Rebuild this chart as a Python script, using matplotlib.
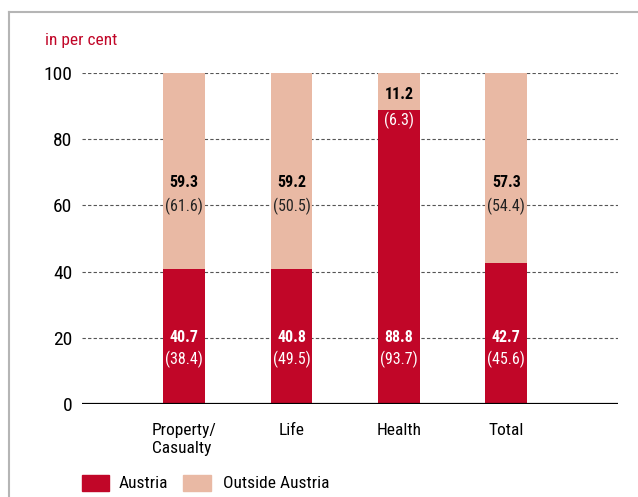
import matplotlib
matplotlib.use("Agg")
import matplotlib.pyplot as plt
from matplotlib.lines import Line2D
from matplotlib.patches import Rectangle
from matplotlib import font_manager

categories = ["Property/\nCasualty", "Life", "Health", "Total"]
austria = [40.7, 40.8, 88.8, 42.7]
outside = [59.3, 59.2, 11.2, 57.3]
austria_prev = ["(38.4)", "(49.5)", "(93.7)", "(45.6)"]
outside_prev = ["(61.6)", "(50.5)", "(6.3)", "(54.4)"]
yticks = [0, 20, 40, 60, 80, 100]

names = {f.name for f in font_manager.fontManager.ttflist}
fam = "Liberation Sans"
for cand in ["Liberation Sans Narrow", "Roboto Condensed", "Open Sans Condensed", "DejaVu Sans Condensed"]:
    if cand in names:
        fam = cand
        break
plt.rcParams['font.family'] = [fam, 'DejaVu Sans']

RED = "#C10628"
PINK = "#E9B9A4"
W, H = 638, 497
fig = plt.figure(figsize=(W / 100, H / 100), dpi=100)
ax = fig.add_axes([82 / W, 1 - 404 / H, (618 - 82) / W, (404 - 73) / H])

x = list(range(len(categories)))
bw = 0.39
ax.bar(x, austria, width=bw, color=RED, zorder=3)
ax.bar(x, outside, width=bw, bottom=austria, color=PINK, zorder=3)

ax.set_xlim(-0.95, 4.04)
ax.set_ylim(0, 100)
ax.set_yticks(yticks)
ax.set_yticklabels([str(v) for v in yticks], fontsize=14)
ax.tick_params(axis='y', length=0, pad=7)
ax.set_xticks(x)
ax.set_xticklabels(categories, fontsize=12.5, multialignment='left', va='top')
ax.tick_params(axis='x', length=0, pad=14)
for s in ax.spines.values():
    s.set_visible(False)
for v in yticks[1:]:
    ax.axhline(v, color="#555555", lw=0.8, ls=(0, (3, 2)), zorder=1)
ax.axhline(0, color="black", lw=1.6, zorder=4)

fs = 11.5
for i in x:
    a, o = austria[i], outside[i]
    ax.text(i, 20, f"{a}", ha='center', va='center', color='white',
            fontsize=fs, fontweight='bold', zorder=5)
    ax.text(i, 13.6, austria_prev[i], ha='center', va='center', color='white',
            fontsize=fs, zorder=5)
    if o > 30:
        ax.text(i, 67, f"{o}", ha='center', va='center', color='black',
                fontsize=fs, fontweight='bold', zorder=5)
        ax.text(i, 59.8, outside_prev[i], ha='center', va='center', color='#222222',
                fontsize=fs, zorder=5)
    else:
        ax.text(i, 93.6, f"{o}", ha='center', va='center', color='black',
                fontsize=fs, fontweight='bold', zorder=5)
        ax.text(i, 85.8, outside_prev[i], ha='center', va='center', color='white',
                fontsize=fs, zorder=5)

fig.text(45 / W, 1 - 40 / H, "in per cent", color=RED, fontsize=12.5, ha='left', va='center')

# legend
fig.add_artist(Rectangle((82 / W, 1 - 491 / H), 27 / W, 16 / H, transform=fig.transFigure,
                         color=RED))
fig.text(119 / W, 1 - 484 / H, "Austria", fontsize=12.5, ha='left', va='center')
fig.add_artist(Rectangle((183 / W, 1 - 491 / H), 28 / W, 16 / H, transform=fig.transFigure,
                         color=PINK))
fig.text(223 / W, 1 - 484 / H, "Outside Austria", fontsize=12.5, ha='left', va='center')

# frame
fig.add_artist(Line2D([9 / W, 1], [1 - 12 / H, 1 - 12 / H], color="#b5b5b5", lw=1.5,
                      transform=fig.transFigure))
fig.add_artist(Line2D([9 / W, 9 / W], [1 - 12 / H, 0], color="#b5b5b5", lw=1.5,
                      transform=fig.transFigure))

fig.savefig("out.png", dpi=100)
